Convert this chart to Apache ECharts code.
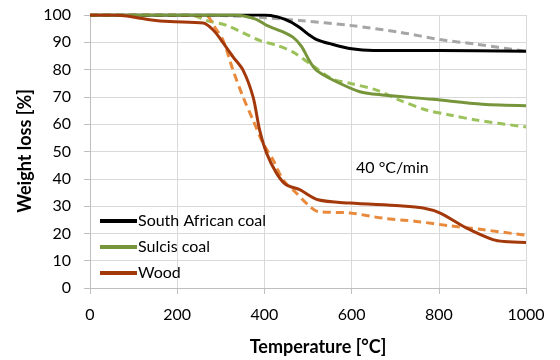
<!DOCTYPE html>
<html><head><meta charset="utf-8">
<script src="https://cdn.jsdelivr.net/npm/echarts@6/dist/echarts.min.js"></script>
<style>html,body{margin:0;padding:0;background:#fff}#c{width:560px;height:360px}</style>
</head><body><div id="c"></div>
<script>
var xTicks = [0, 200, 400, 600, 800, 1000];
var yTicks = [0, 10, 20, 30, 40, 50, 60, 70, 80, 90, 100];
var seriesNames = ['South African coal', 'Sulcis coal', 'Wood'];
var xTitle = 'Temperature [°C]';
var yTitle = 'Weight loss [%]';
var annotation = '40 °C/min';
var saCoalT = [0, 400, 430, 460, 480, 500, 520, 550, 600, 650, 800, 1000];
var saCoalW = [100, 100, 99.3, 97.5, 95.5, 93, 91, 89.5, 87.6, 87, 87, 86.7];
var saCoalDashT = [0, 250, 350, 400, 481, 596, 710, 802, 886, 1000];
var saCoalDashW = [100, 100, 99.5, 99, 98, 96.2, 93.7, 91, 89.3, 86.7];
var sulcisT = [0, 330, 380, 405, 440, 466, 485, 504, 519, 557, 619, 671, 786, 900, 1000];
var sulcisW = [100, 100, 98.5, 96.2, 94, 91.8, 88.5, 83, 79.8, 76.2, 71.9, 70.7, 69.1, 67.3, 66.8];
var sulcisDashT = [0, 230, 267, 313, 389, 430, 466, 510, 557, 596, 657, 710, 771, 825, 886, 1000];
var sulcisDashW = [100, 100, 98, 96.2, 90.7, 88.8, 86.4, 81.5, 76.5, 75, 72.5, 68.8, 65.2, 63.4, 61.5, 59];
var woodT = [0, 50, 84, 137, 183, 260, 283, 300, 328, 351, 374, 389, 405, 428, 450, 481, 523, 596, 710, 764, 802, 863, 924, 950, 1000];
var woodW = [100, 100, 99.6, 98.3, 97.6, 97.1, 94.4, 91, 84.7, 79.8, 70, 57.9, 49.4, 42, 37.8, 36, 32.3, 31.1, 30.1, 29.3, 27.5, 22, 17.7, 17, 16.7];
var woodDashT = [0, 90, 267, 283, 305, 328, 351, 374, 397, 420, 443, 473, 504, 523, 596, 671, 748, 825, 900, 1000];
var woodDashW = [100, 100, 99.7, 96.2, 90.8, 79.8, 70, 61.5, 53, 46.9, 39.6, 34.8, 29.9, 28, 27.5, 25.6, 24.4, 22.8, 21.4, 19.3];

function pairs(t, w) { return t.map(function (v, i) { return [v, w[i]]; }); }
var FONT = 'Lato';
function line(name, t, w, color, dashed, z) {
  return {
    name: name, type: 'line', data: pairs(t, w), smooth: 0.3, showSymbol: false, symbol: 'none',
    z: z, lineStyle: { color: color, width: 3, type: dashed ? [8, 5] : 'solid' },
    itemStyle: { color: color }, animation: false
  };
}
var chart = echarts.init(document.getElementById('c'), null, { renderer: 'canvas' });
chart.setOption({
  animation: false,
  grid: { left: 90, right: 34, top: 15, bottom: 72, containLabel: false },
  xAxis: {
    type: 'value', min: xTicks[0], max: xTicks[xTicks.length - 1], interval: xTicks[1] - xTicks[0],
    axisLine: { show: true, lineStyle: { color: '#bfbfbf', width: 1 } },
    axisTick: { show: true, length: 6, lineStyle: { color: '#bfbfbf' } },
    axisLabel: { fontFamily: FONT, fontSize: 16, color: '#000', margin: 19, formatter: function (v) { return String(v); } },
    splitLine: { show: true, lineStyle: { color: '#d9d9d9', width: 1 } }
  },
  yAxis: {
    type: 'value', min: yTicks[0], max: yTicks[yTicks.length - 1], interval: yTicks[1] - yTicks[0],
    axisLine: { show: true, lineStyle: { color: '#bfbfbf', width: 1 } },
    axisTick: { show: true, length: 6, lineStyle: { color: '#bfbfbf' } },
    axisLabel: { fontFamily: FONT, fontSize: 16, color: '#000', margin: 19, formatter: function (v) { return String(v); } },
    splitLine: { show: true, lineStyle: { color: '#d9d9d9', width: 1 } }
  },
  legend: {
    data: seriesNames, orient: 'vertical', left: 100, top: 211, itemGap: 6, padding: 0,
    itemWidth: 37, itemHeight: 4, icon: 'rect',
    textStyle: { fontFamily: FONT, fontSize: 16, lineHeight: 20, color: '#000', padding: [0, 0, 0, -4] }
  },
  graphic: [
    { type: 'text', left: 356, top: 160, style: { text: annotation, font: '16px "' + FONT + '"', fill: '#000' } },
    { type: 'text', x: 318, y: 347, style: { text: xTitle, font: 'bold 18px "' + FONT + '"', fill: '#000', align: 'center', verticalAlign: 'middle' } },
    { type: 'text', x: 25, y: 151, rotation: Math.PI / 2, style: { text: yTitle, font: 'bold 18px "' + FONT + '"', fill: '#000', align: 'center', verticalAlign: 'middle' } }
  ],
  series: [
    line('South African coal (dashed)', saCoalDashT, saCoalDashW, '#a6a6a6', true, 2),
    line('Sulcis coal (dashed)', sulcisDashT, sulcisDashW, '#9bc25a', true, 2),
    line('Wood (dashed)', woodDashT, woodDashW, '#e8893c', true, 2),
    line('South African coal', saCoalT, saCoalW, '#000000', false, 3),
    line('Sulcis coal', sulcisT, sulcisW, '#77963b', false, 3),
    line('Wood', woodT, woodW, '#a3390b', false, 3)
  ]
});
</script></body></html>
